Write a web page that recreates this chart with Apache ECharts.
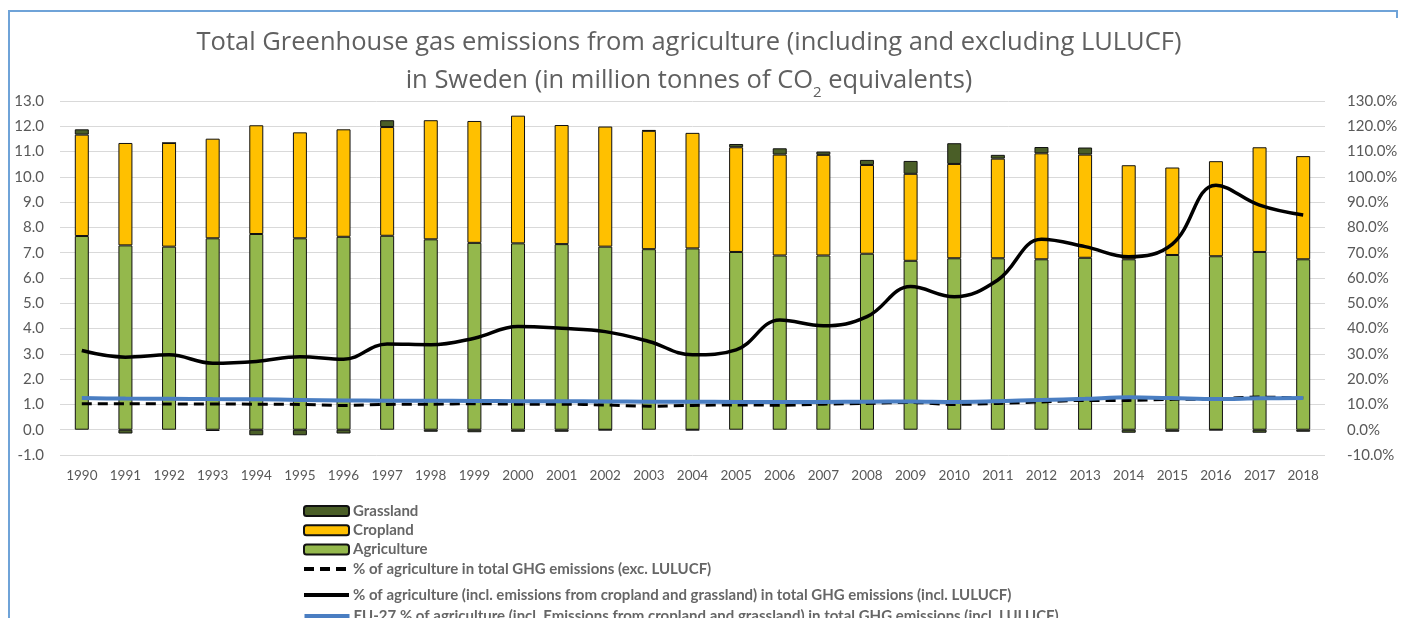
<!DOCTYPE html>
<html>
<head>
<meta charset="utf-8">
<script src="https://cdn.jsdelivr.net/npm/echarts@6/dist/echarts.min.js"></script>
<style>
html,body{margin:0;padding:0;background:#fff;overflow:hidden;}
#frame{position:absolute;left:8px;top:10px;width:1387px;height:700px;border-top:2px solid #6fa3d8;border-left:2px solid #6fa3d8;}
#frameR{position:absolute;left:1396px;top:10px;width:2px;height:8px;background:#6fa3d8;}
#chart{position:absolute;left:0;top:0;width:1401px;height:618px;}
</style>
</head>
<body>
<div id="frame"></div>
<div id="frameR"></div>
<div id="chart"></div>
<script>
const years = ['1990','1991','1992','1993','1994','1995','1996','1997','1998','1999','2000','2001','2002','2003','2004','2005','2006','2007','2008','2009','2010','2011','2012','2013','2014','2015','2016','2017','2018'];
const agriculture = [7.66,7.29,7.24,7.57,7.74,7.57,7.63,7.67,7.53,7.39,7.37,7.34,7.24,7.14,7.17,7.03,6.89,6.89,6.96,6.68,6.78,6.78,6.74,6.80,6.74,6.91,6.86,7.03,6.74];
const cropland = [4.01,4.05,4.10,3.94,4.30,4.19,4.25,4.30,4.71,4.82,5.05,4.71,4.75,4.68,4.57,4.14,3.99,3.98,3.51,3.44,3.73,3.94,4.19,4.08,3.72,3.46,3.76,4.14,4.08];
const grassland = [0.21,-0.15,0.0,-0.05,-0.22,-0.22,-0.15,0.27,-0.08,-0.10,-0.08,-0.08,-0.02,0.03,-0.02,0.13,0.25,0.13,0.20,0.51,0.82,0.15,0.25,0.28,-0.12,-0.08,-0.02,-0.12,-0.08];
const pctExcl = [10.3,10.3,10.2,10.2,10.1,10.0,9.6,10.0,10.1,10.3,10.1,10.1,9.8,9.3,9.6,9.8,9.7,10.1,10.4,10.8,10.0,10.4,11.0,11.6,11.6,12.0,12.2,12.9,12.5];
const pctIncl = [31.3,28.7,29.6,26.3,27.0,28.9,27.9,33.9,33.6,36.2,40.8,40.1,38.8,34.9,29.6,31.6,43.4,41.1,44.7,56.6,52.6,59.2,75.3,72.4,68.4,73.4,96.7,88.8,84.9];
const pctEU27 = [12.5,12.3,12.2,12.1,12.0,11.8,11.6,11.5,11.5,11.4,11.3,11.3,11.2,11.1,11.1,11.0,11.0,11.0,11.1,11.2,11.0,11.3,11.8,12.2,12.8,12.5,12.1,12.4,12.5];

const names = {
  grass: 'Grassland',
  crop: 'Cropland',
  agri: 'Agriculture',
  excl: '% of agriculture in total GHG emissions (exc. LULUCF)',
  incl: '% of agriculture (incl. emissions from cropland and grassland) in total GHG emissions (incl. LULUCF)',
  eu: 'EU-27 % of agriculture (incl. Emissions from cropland and grassland) in total GHG emissions (incl. LULUCF)'
};

const labelColor = '#595959';
const font = 'Lato, "Open Sans", sans-serif';
const legendText = { fontFamily: font, fontWeight: 'bold', fontSize: 15, lineHeight: 15, color: '#666666', padding: [0,0,0,-1] };
const barLegendStyle = { borderWidth: 2, borderColor: '#111' };
const noSymbol = { opacity: 0 };
const legendBase = { orient: 'vertical', left: 297, itemWidth: 45, itemHeight: 10, textStyle: legendText };

const chart = echarts.init(document.getElementById('chart'), null, {renderer:'canvas'});
chart.setOption({
  animation: false,
  backgroundColor: 'transparent',
  title: {
    text: 'Total Greenhouse gas emissions from agriculture (including and excluding LULUCF)\nin Sweden (in million tonnes of CO{sub|2} equivalents)',
    left: 684, top: 19, textAlign: 'center',
    textStyle: {
      fontFamily: '"Open Sans", sans-serif', fontWeight: 'normal', fontSize: 25.5, color: '#606060', lineHeight: 38,
      rich: { sub: { fontSize: 15, verticalAlign: 'bottom', padding: [14,0,0,0], fontFamily: '"Open Sans", sans-serif', color: '#606060' } }
    }
  },
  grid: { left: 60, right: 76, top: 101, bottom: 163, containLabel: false },
  legend: [
    Object.assign({}, legendBase, {
      top: 498.5, itemGap: 4.3,
      data: [
        { name: names.grass, itemStyle: barLegendStyle },
        { name: names.crop, itemStyle: barLegendStyle },
        { name: names.agri, itemStyle: barLegendStyle },
        { name: names.excl, itemStyle: noSymbol, lineStyle: { width: 4 } }
      ]
    }),
    Object.assign({}, legendBase, {
      top: 582.5,
      data: [ { name: names.incl, itemStyle: noSymbol, lineStyle: { width: 4 } } ]
    }),
    Object.assign({}, legendBase, {
      top: 604,
      data: [ { name: names.eu, itemStyle: noSymbol, lineStyle: { width: 5 } } ]
    })
  ],
  xAxis: {
    type: 'category', data: years,
    axisLine: { show: false }, axisTick: { show: false },
    axisLabel: { fontFamily: font, fontSize: 13.5, color: labelColor, margin: 14 }
  },
  yAxis: [
    { type: 'value', min: -1, max: 13, interval: 1, position: 'left',
      axisLabel: { fontFamily: font, fontSize: 15, color: labelColor, margin: 16, formatter: v => v.toFixed(1) },
      splitLine: { lineStyle: { color: '#d9d9d9', width: 1 } },
      axisLine: { show: false }, axisTick: { show: false } },
    { type: 'value', min: -10, max: 130, interval: 10, position: 'right',
      axisLabel: { fontFamily: font, fontSize: 15, color: labelColor, margin: 22, formatter: v => v.toFixed(1) + '%' },
      splitLine: { show: false }, axisLine: { show: false }, axisTick: { show: false } }
  ],
  series: [
    { name: names.agri, type: 'bar', stack: 'em', data: agriculture, barWidth: 14,
      itemStyle: { color: '#94b84c', borderColor: '#111', borderWidth: 1 } },
    { name: names.crop, type: 'bar', stack: 'em', data: cropland, barWidth: 14,
      itemStyle: { color: '#ffc000', borderColor: '#111', borderWidth: 1 } },
    { name: names.grass, type: 'bar', stack: 'em', data: grassland, barWidth: 14,
      itemStyle: { color: '#4a5e27', borderColor: '#111', borderWidth: 1 } },
    { name: names.excl, type: 'line', yAxisIndex: 1, data: pctExcl, symbol: 'none', smooth: 0.3,
      lineStyle: { color: '#000', width: 3, type: [10,6] }, itemStyle: { color: '#000' }, z: 3 },
    { name: names.incl, type: 'line', yAxisIndex: 1, data: pctIncl, symbol: 'none', smooth: 0.4,
      lineStyle: { color: '#000', width: 3.5 }, itemStyle: { color: '#000' }, z: 4 },
    { name: names.eu, type: 'line', yAxisIndex: 1, data: pctEU27, symbol: 'none', smooth: 0.3,
      lineStyle: { color: '#4a7ec2', width: 4 }, itemStyle: { color: '#4a7ec2' }, z: 3 }
  ]
});
</script>
</body>
</html>
